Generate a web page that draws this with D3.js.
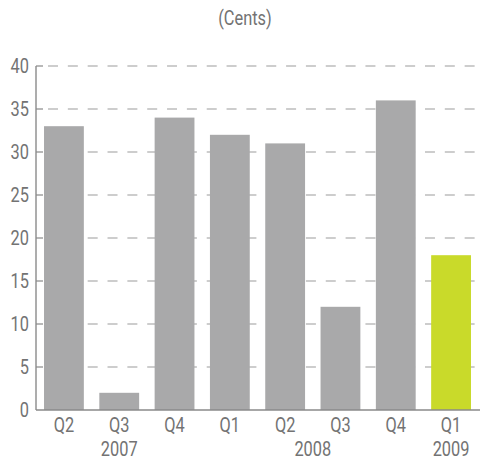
<!DOCTYPE html>
<html>
<head>
<meta charset="utf-8">
<script src="https://cdn.jsdelivr.net/npm/d3@7"></script>
<style>
  html, body { margin: 0; padding: 0; background: #fff; }
  svg text { font-family: "Roboto", "Liberation Sans", sans-serif; fill: #737373; }
</style>
</head>
<body>
<svg id="chart" width="480" height="460"></svg>
<script>
// Quarterly values, in cents
const quarters = ["Q2", "Q3", "Q4", "Q1", "Q2", "Q3", "Q4", "Q1"];
const years    = ["2007", "2007", "2007", "2008", "2008", "2008", "2008", "2009"];
const values   = [33, 2, 34, 32, 31, 12, 36, 18];
const yTicks   = [0, 5, 10, 15, 20, 25, 30, 35, 40];
const yearLabels = ["2007", "2008", "2009"];
const unitLabel = "(Cents)";

const svg = d3.select("#chart");
const plotLeft = 36, plotRight = 479, plotTop = 66, plotBottom = 410;
const keys = d3.range(values.length);
const narrow = 0.82;   // horizontal squeeze giving a condensed face

const x = d3.scaleBand().domain(keys).range([plotLeft, plotRight])
  .paddingInner(0.28).paddingOuter(0.145);
const y = d3.scaleLinear().domain([0, 40]).range([plotBottom, plotTop]);

// Draws condensed text anchored at (px, py)
function label(parent, px, py, txt, anchor) {
  parent.append("text")
    .attr("transform", `translate(${px},${py}) scale(${narrow},1)`)
    .attr("text-anchor", anchor).attr("font-size", 20)
    .text(txt);
}

// Title
label(svg, 245, 25, unitLabel, "middle");

// Dashed gridlines (above zero) with a short tick at the axis
const grid = svg.append("g");
yTicks.filter(t => t > 0).forEach(t => {
  grid.append("line").attr("x1", 48).attr("x2", 480)
    .attr("y1", y(t)).attr("y2", y(t))
    .attr("stroke", "#bdbdbd").attr("stroke-width", 1.6)
    .attr("stroke-dasharray", "10 9.84");
  grid.append("line").attr("x1", plotLeft).attr("x2", 43)
    .attr("y1", y(t)).attr("y2", y(t))
    .attr("stroke", "#9a9a9a").attr("stroke-width", 1.4);
});

// Bars
svg.append("g").selectAll("rect").data(keys).join("rect")
  .attr("x", i => x(i)).attr("width", x.bandwidth())
  .attr("y", i => y(values[i])).attr("height", i => y(0) - y(values[i]))
  .attr("fill", i => i === values.length - 1 ? "#c9da2a" : "#a9a9aa");

// Axis lines
svg.append("line").attr("x1", plotLeft).attr("x2", plotLeft).attr("y1", plotTop).attr("y2", plotBottom)
  .attr("stroke", "#8a8a8a").attr("stroke-width", 1.4);
svg.append("line").attr("x1", plotLeft).attr("x2", 480).attr("y1", plotBottom).attr("y2", plotBottom)
  .attr("stroke", "#8a8a8a").attr("stroke-width", 1.4);

// Y tick labels
const yLab = svg.append("g");
yTicks.forEach(t => label(yLab, 29, y(t) + 7, t, "end"));

// Quarter labels
const qLab = svg.append("g");
keys.forEach(i => label(qLab, x(i) + x.bandwidth() / 2, 432, quarters[i], "middle"));

// Year labels centred under each year's quarters
const yrLab = svg.append("g");
yearLabels.forEach(yr => {
  const idx = keys.filter(i => years[i] === yr);
  label(yrLab, d3.mean(idx, i => x(i) + x.bandwidth() / 2), 456, yr, "middle");
});
</script>
</body>
</html>
